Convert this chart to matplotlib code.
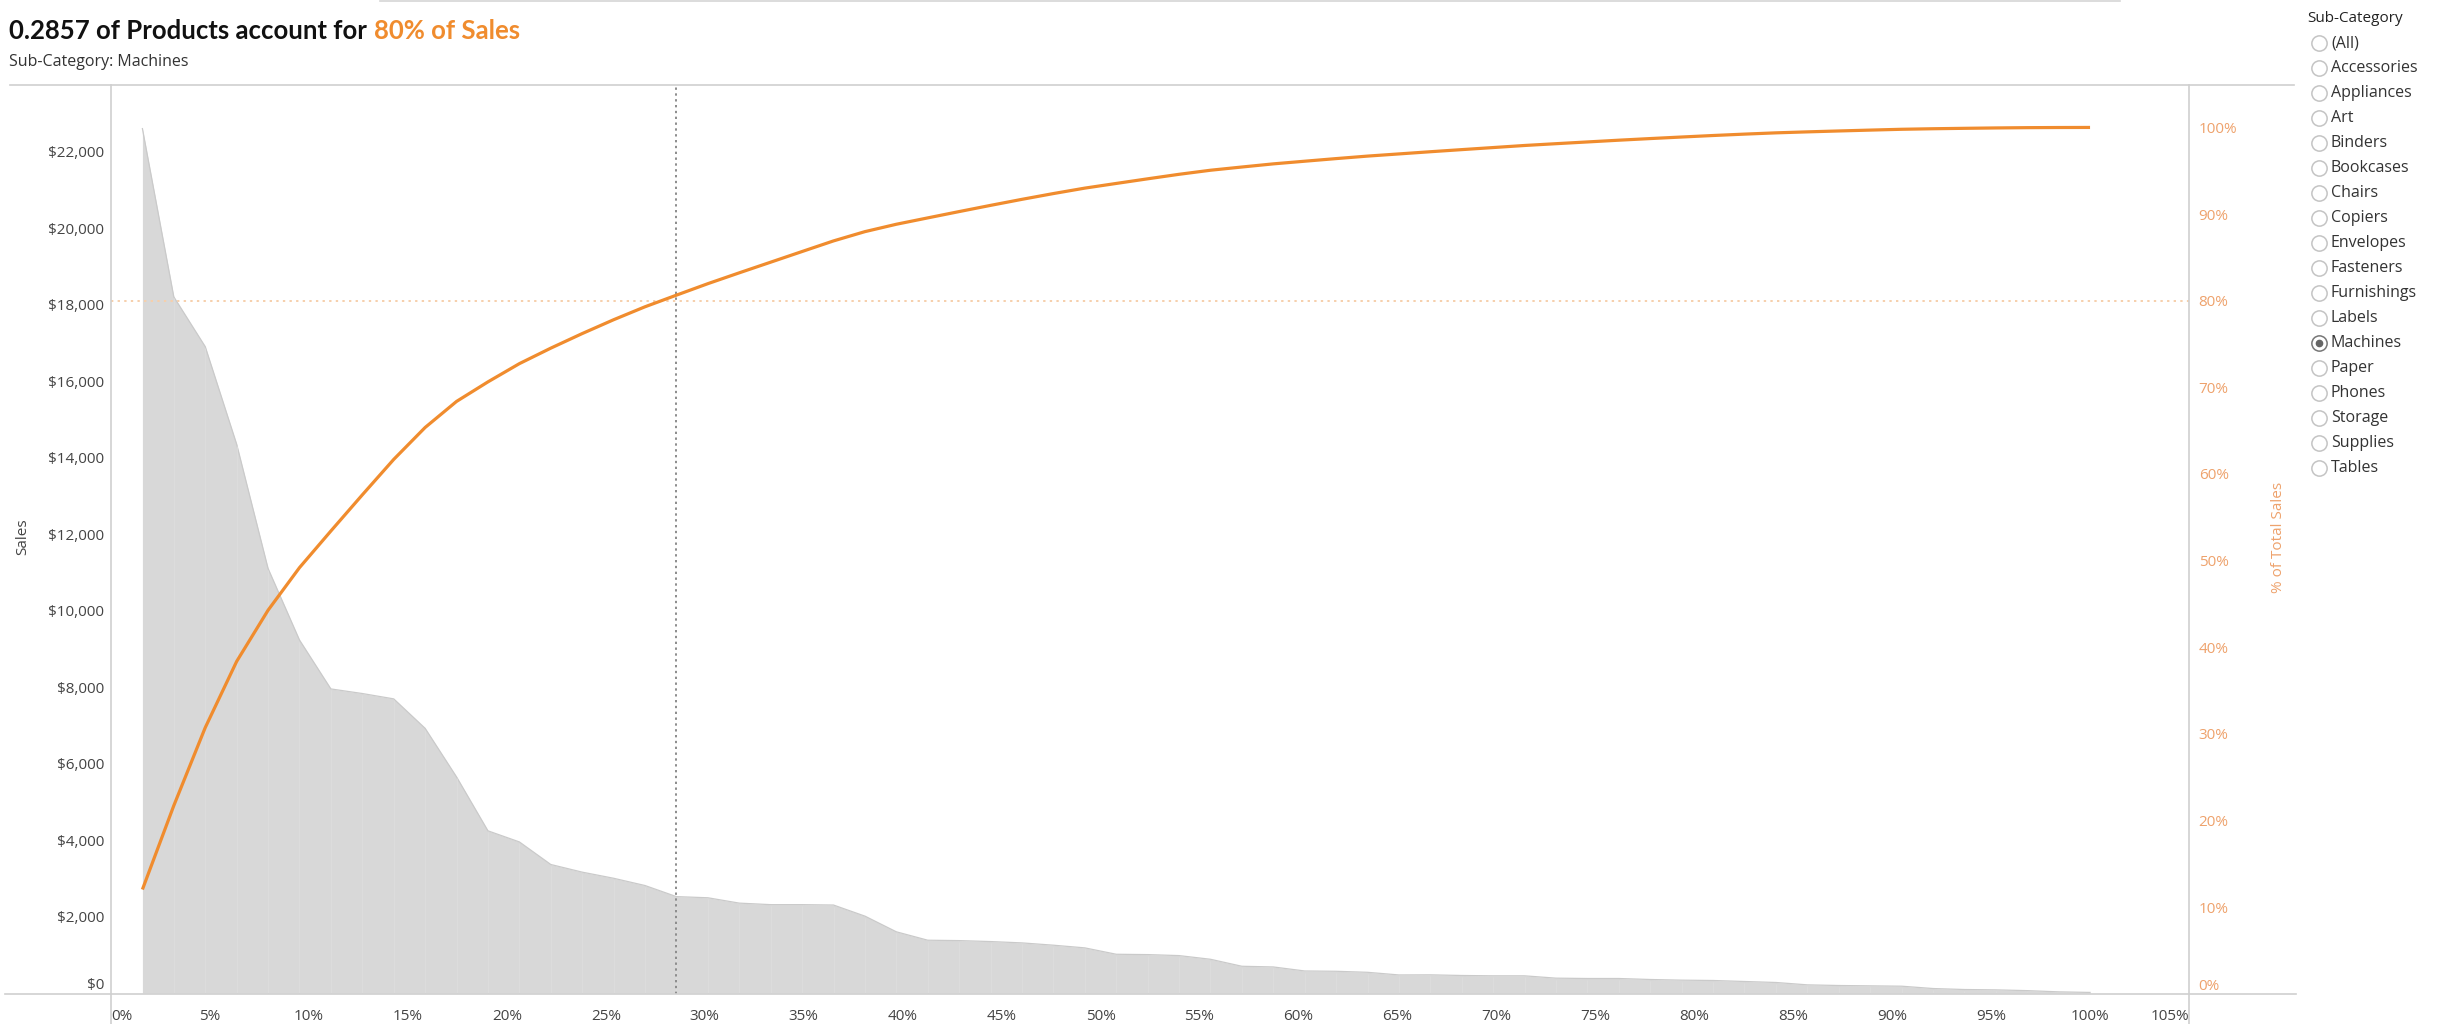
import numpy as np
import matplotlib.pyplot as plt
import matplotlib.ticker as ticker
from matplotlib.lines import Line2D

plt.rcParams['font.family'] = ['Open Sans', 'DejaVu Sans']

# sales per product (Machines), sorted high to low
sales = [22600, 18200, 16900, 14350, 11100, 9230, 7950, 7830, 7690, 6920,
         5650, 4240, 3950, 3360, 3160, 3000, 2810, 2520, 2490, 2350,
         2310, 2310, 2300, 2010, 1600, 1380, 1370, 1345, 1310, 1250,
         1180, 1013, 1004, 978, 882, 699, 681, 576, 568, 541,
         472, 475, 458, 449, 449, 388, 379, 379, 353, 336,
         327, 301, 275, 213, 196, 187, 178, 117, 91, 82,
         62, 30, 15]

sub_categories = ["(All)", "Accessories", "Appliances", "Art", "Binders",
                  "Bookcases", "Chairs", "Copiers", "Envelopes", "Fasteners",
                  "Furnishings", "Labels", "Machines", "Paper", "Phones",
                  "Storage", "Supplies", "Tables"]
selected = "Machines"

x_ticks = list(range(0, 106, 5))
sales_ticks = list(range(0, 22001, 2000))
pct_ticks = list(range(0, 101, 10))

orange = "#f08c2e"
orange_lt = "#eea26c"
grey_txt = "#444444"
rule = "#cfcfcf"

n = len(sales)
x_pct = np.arange(1, n + 1) / n * 100
cum_pct = np.cumsum(sales) / np.sum(sales) * 100
cut = int(np.argmax(cum_pct >= 80)) + 1
cut_share = cut / n

W, H = 2438, 1024
fig = plt.figure(figsize=(W / 100, H / 100), dpi=100)


def fx(px):
    return px / W


def fy(py):
    return 1 - py / H


ax = fig.add_axes([fx(111), fy(994), fx(2189) - fx(111), fy(85) - fy(994)])
ax2 = ax.twinx()

ax.fill_between(x_pct, sales, color="#d8d8d8", lw=0)
ax.plot(x_pct, sales, color="#cacaca", lw=0.9)
ax.vlines(x_pct[1:-1], 0, np.array(sales[1:-1]) - 40, color="#dddddd", lw=0.6)

ax.axvline(cut_share * 100, color="#8c8c8c", lw=1.4, ls=(0, (1.2, 1.8)))
ax2.axhline(80, color="#f6cfab", lw=1.4, ls=(0, (1.2, 2.2)))
ax2.plot(x_pct, cum_pct, color=orange, lw=2.3, solid_joinstyle="round",
         solid_capstyle="butt")

ax.set_xlim(0, 105)
ax.set_ylim(-26, 23740)
ax2.set_ylim(-0.03, 104.9)

ax.set_xticks(x_ticks)
ax.set_xticklabels([f"{v}%" for v in x_ticks])
ax.set_yticks(sales_ticks)
ax.yaxis.set_major_formatter(ticker.FuncFormatter(lambda v, _: f"${v:,.0f}"))
ax2.set_yticks(pct_ticks)
ax2.set_yticklabels([f"{v}%" for v in pct_ticks])

ax.tick_params(axis="x", length=0, pad=11, labelsize=11, labelcolor=grey_txt)
ax.tick_params(axis="y", length=0, pad=5, labelsize=11, labelcolor=grey_txt)
ax2.tick_params(axis="y", length=0, pad=7, labelsize=11, labelcolor=orange_lt)

xl = ax.get_xticklabels()
xl[0].set_ha("left")
xl[-1].set_ha("right")
ax.get_yticklabels()[0].set_va("bottom")
ax2.get_yticklabels()[0].set_va("bottom")

for a in (ax, ax2):
    for s in a.spines.values():
        s.set_visible(False)

# frame rules like the dashboard
fig.add_artist(Line2D([fx(5), fx(2296)], [fy(994), fy(994)], color=rule, lw=1.2))
fig.add_artist(Line2D([fx(10), fx(2294)], [fy(85), fy(85)], color=rule, lw=1.2))
fig.add_artist(Line2D([fx(111), fx(111)], [fy(85), 0], color=rule, lw=1.2))
fig.add_artist(Line2D([fx(2189), fx(2189)], [fy(85), 0], color=rule, lw=1.2))
fig.add_artist(Line2D([fx(380), fx(2120)], [fy(1), fy(1)], color="#d6d6d6", lw=1.2))

fig.text(fx(23), fy(537), "Sales", rotation=90, ha="center", va="center",
         fontsize=11, color=grey_txt)
fig.text(fx(2279), fy(537), "% of Total Sales", rotation=90, ha="center",
         va="center", fontsize=11, color=orange_lt)

t1 = fig.text(fx(9), fy(31), f"{cut_share:.4f} of Products account for",
              fontsize=18.5, fontweight="bold", family=["Lato", "DejaVu Sans"],
              color="#111111", va="center", ha="left")
ax.annotate("80% of Sales", xy=(1, 0), xycoords=t1, xytext=(5, 0),
            textcoords="offset points", va="bottom", ha="left", fontsize=18.5,
            fontweight="bold", family=["Lato", "DejaVu Sans"], color=orange)
fig.text(fx(9), fy(62), "Sub-Category: Machines", fontsize=11.5, color="#333333",
         va="center", ha="left")

# Sub-Category filter
fig.text(fx(2307), fy(18), "Sub-Category", fontsize=11, color="#222222",
         va="center", ha="left")
for k, name in enumerate(sub_categories):
    yy = fy(43 + 25 * k)
    on = name == selected
    fig.add_artist(Line2D([fx(2319)], [yy], marker="o", markersize=11,
                          mfc="white", mec="#777777" if on else "#c4c4c4",
                          mew=1.1, ls="none"))
    if on:
        fig.add_artist(Line2D([fx(2319)], [yy], marker="o", markersize=4.5,
                              mfc="#666666", mec="#666666", ls="none"))
    fig.text(fx(2331), yy, name, fontsize=11.5, color="#333333",
             va="center", ha="left")

fig.savefig("out.png", dpi=100)
